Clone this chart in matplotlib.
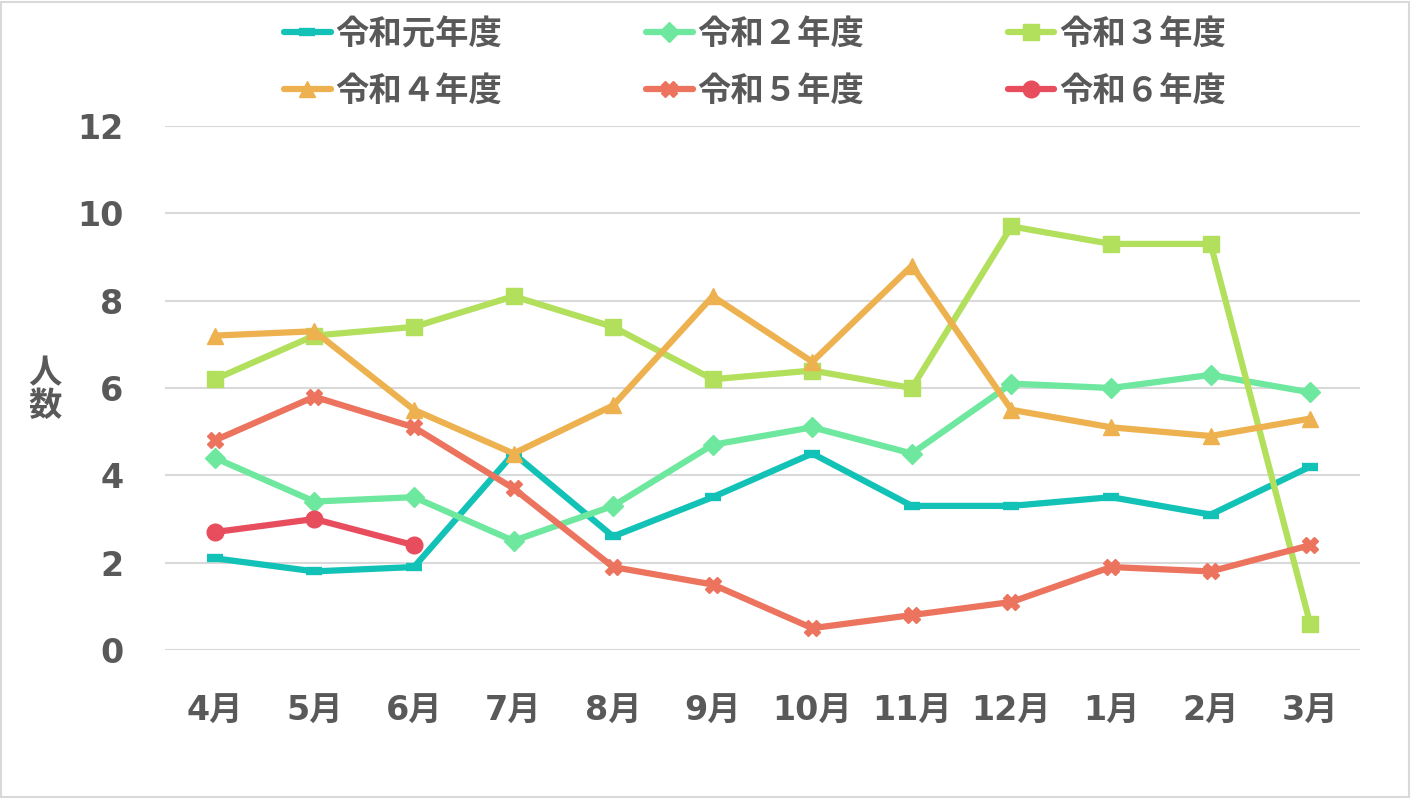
import matplotlib
matplotlib.use("Agg")
import matplotlib.pyplot as plt
from matplotlib.patches import Rectangle

plt.rcParams['font.family'] = ['Noto Sans CJK JP', 'DejaVu Sans']

months = ["4月", "5月", "6月", "7月", "8月", "9月", "10月", "11月", "12月", "1月", "2月", "3月"]
labels = ["令和元年度", "令和２年度", "令和３年度", "令和４年度", "令和５年度", "令和６年度"]

r1 = [2.1, 1.8, 1.9, 4.5, 2.6, 3.5, 4.5, 3.3, 3.3, 3.5, 3.1, 4.2]
r2 = [4.4, 3.4, 3.5, 2.5, 3.3, 4.7, 5.1, 4.5, 6.1, 6.0, 6.3, 5.9]
r3 = [6.2, 7.2, 7.4, 8.1, 7.4, 6.2, 6.4, 6.0, 9.7, 9.3, 9.3, 0.6]
r4 = [7.2, 7.3, 5.5, 4.5, 5.6, 8.1, 6.6, 8.8, 5.5, 5.1, 4.9, 5.3]
r5 = [4.8, 5.8, 5.1, 3.7, 1.9, 1.5, 0.5, 0.8, 1.1, 1.9, 1.8, 2.4]
r6 = [2.7, 3.0, 2.4]

series = [r1, r2, r3, r4, r5, r6]
colors = ["#12C2B6", "#6EE89E", "#B2DF5C", "#EDB24F", "#EC735D", "#E84D5E"]
markers = ["_", "D", "s", "^", "X", "o"]
msizes = [12, 10, 12, 12, 12, 12]

txt = "#595959"

fig = plt.figure(figsize=(14.11, 7.98), dpi=100)
ax = fig.add_axes([165 / 1411, 148 / 798, 1195 / 1411, 524 / 798])

lines = []
for vals, lab, c, m, ms in zip(series, labels, colors, markers, msizes):
    x = list(range(len(vals)))
    ln, = ax.plot(x, vals, color=c, lw=4.5, marker=m, markersize=ms, label=lab,
                  markeredgewidth=6 if m == "_" else 1, markeredgecolor=c,
                  solid_joinstyle="round", solid_capstyle="round")
    lines.append(ln)

ax.set_xlim(-0.5, 11.5)
ax.set_ylim(0, 12)
ax.set_yticks(range(0, 13, 2))
ax.set_xticks(range(len(months)))
ax.set_xticklabels(months)
ax.grid(axis="y", color="#D9D9D9", lw=1.5)
ax.set_axisbelow(True)
for s in ax.spines.values():
    s.set_visible(False)
ax.tick_params(length=0, colors=txt, labelsize=24)
ax.tick_params(axis="y", pad=30)
ax.tick_params(axis="x", pad=32)
for t in ax.get_yticklabels() + ax.get_xticklabels():
    t.set_fontfamily(["DejaVu Sans", "Noto Sans CJK JP"])
    t.set_fontweight("bold")

fig.text(45 / 1411, 1 - 390 / 798, "人\n数", ha="center", va="center",
         fontsize=24, fontweight="bold", color=txt, linespacing=1.0)

# legend fills column-wise, so reorder to read row-wise like the original
order = [0, 3, 1, 4, 2, 5]
leg = fig.legend([lines[i] for i in order], [labels[i] for i in order],
                 loc="upper left", bbox_to_anchor=(284 / 1411, 1 - 18 / 798),
                 ncol=3, frameon=False, fontsize=24, handlelength=1.4,
                 handletextpad=0.15, columnspacing=4.3, labelspacing=0.7,
                 borderpad=0, borderaxespad=0)
for t in leg.get_texts():
    t.set_color(txt)
    t.set_fontweight("bold")

fig.patches.append(Rectangle((0.0005, 0.001), 0.998, 0.997, transform=fig.transFigure,
                             fill=False, edgecolor="#D9D9D9", lw=1.5))

fig.savefig("out.png", dpi=100)
